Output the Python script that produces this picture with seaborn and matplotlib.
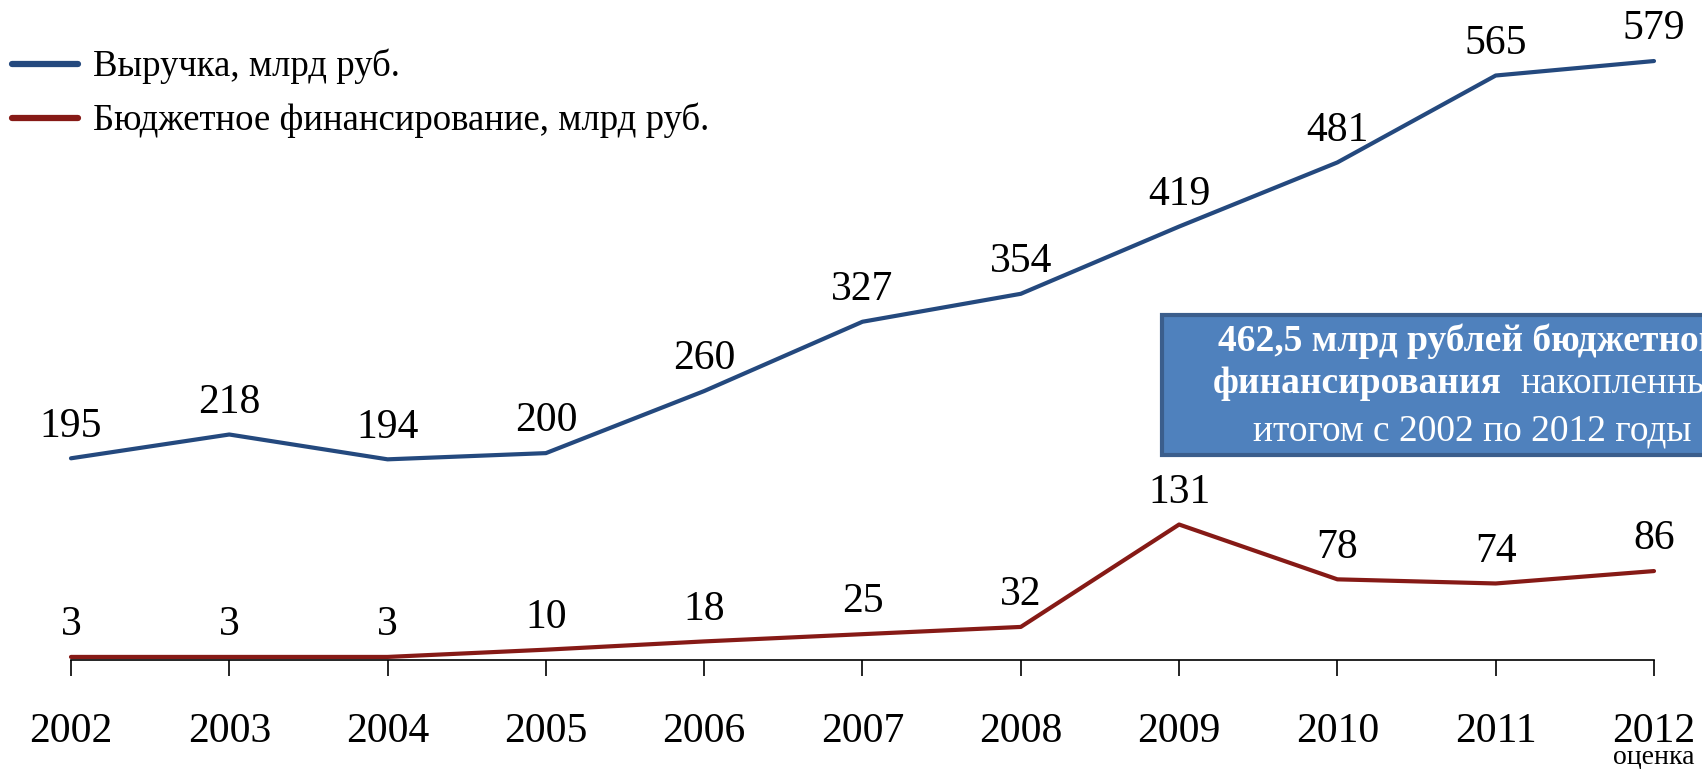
import matplotlib
matplotlib.use("Agg")
import matplotlib.pyplot as plt
from matplotlib.patches import FancyBboxPatch
import pandas as pd
import seaborn as sns

years = [2002, 2003, 2004, 2005, 2006, 2007, 2008, 2009, 2010, 2011, 2012]
revenue = [195, 218, 194, 200, 260, 327, 354, 419, 481, 565, 579]
budget = [3, 3, 3, 10, 18, 25, 32, 131, 78, 74, 86]
revenue_label = "Выручка, млрд руб."
budget_label = "Бюджетное финансирование, млрд руб."

BLUE = "#24497e"
RED = "#861a16"

sns.set_theme(style="white")
plt.rcParams["font.family"] = ["Liberation Serif", "DejaVu Serif"]
plt.rcParams["text.color"] = "black"
plt.rcParams["xtick.color"] = "black"

df = pd.DataFrame({"year": years, revenue_label: revenue, budget_label: budget})

W, H = 1702, 769
fig = plt.figure(figsize=(W / 100, H / 100), dpi=100)
ax = fig.add_axes([0.0417, 0.1417, 0.9301, 0.8583])

# ── Lines ──────────────────────────────────────────────────────────────────
sns.lineplot(data=df, x="year", y=revenue_label, ax=ax, color=BLUE,
             linewidth=3, label=revenue_label, clip_on=False)
sns.lineplot(data=df, x="year", y=budget_label, ax=ax, color=RED,
             linewidth=3, label=budget_label, clip_on=False)

# data labels
for series in (revenue, budget):
    for x, v in zip(years, series):
        ax.annotate(str(v), (x, v), xytext=(0, 23), textcoords="offset points",
                    ha="center", va="center", fontsize=30, color="black")

ax.set_xlim(2002, 2012)
ax.set_ylim(0, 638)
ax.set_xticks(years)
ax.set_xticklabels([str(y) for y in years], fontsize=30)
ax.set_xlabel("")
ax.set_ylabel("")
ax.set_yticks([])
ax.tick_params(axis="x", direction="out", length=11.5, width=1.2,
               color="black", labelcolor="black", pad=26, bottom=True)
sns.despine(ax=ax, left=True)
ax.spines["bottom"].set_color("black")
ax.spines["bottom"].set_linewidth(1.2)
ax.patch.set_alpha(0)

fig.text(1654 / W, 1 - 757 / H, "оценка", ha="center", va="center", fontsize=20)

leg = ax.legend(loc="upper left", bbox_to_anchor=(-0.006, 0.965), bbox_transform=fig.transFigure,
                frameon=False, fontsize=26.5, handlelength=1.8, handletextpad=0.4,
                labelspacing=0.5, borderaxespad=0.0, borderpad=0.6)
for line in leg.get_lines():
    line.set_linewidth(4.5)

# ── Callout box (runs past the right edge) ────────────────────────────────
box = FancyBboxPatch((1162 / W, 1 - 455 / H), 700 / W, 140 / H,
                     boxstyle="square,pad=0", transform=fig.transFigure,
                     facecolor="#4f81bd", edgecolor="#3b5e8c", linewidth=3, zorder=5)
fig.patches.append(box)
box_fs = 27
fig.text(1218 / W, 1 - 341 / H, "462,5 млрд рублей бюджетного", ha="left", va="center",
         fontsize=box_fs, fontweight="bold", color="white", zorder=6)
fig.text(1213 / W, 1 - 384 / H, "финансирования", ha="left", va="center",
         fontsize=box_fs, fontweight="bold", color="white", zorder=6)
fig.text(1520 / W, 1 - 384 / H, "накопленным", ha="left", va="center",
         fontsize=box_fs, color="white", zorder=6)
fig.text(1472 / W, 1 - 431 / H, "итогом с 2002 по 2012 годы", ha="center", va="center",
         fontsize=box_fs, color="white", zorder=6)

fig.savefig("out.png", dpi=100)
